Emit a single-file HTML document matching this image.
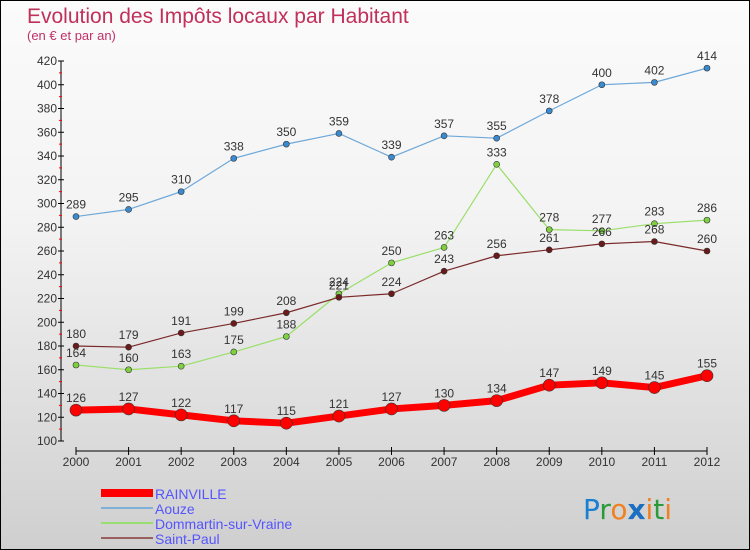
<!DOCTYPE html>
<html><head><meta charset="utf-8"><style>
body{margin:0;width:750px;height:550px;overflow:hidden;font-family:"Liberation Sans",sans-serif}
#wrap{position:relative;width:748px;height:548px;border:1px solid #000;background:linear-gradient(#fbfbfb,#f3f3f3 40%,#cfcfcf)}
</style></head><body>
<div id="wrap">
<svg id="chart" width="748" height="548" style="position:absolute;left:0;top:0">
<text x="26" y="22" font-size="21" fill="#c0305a">Evolution des Impôts locaux par Habitant</text>
<text x="26" y="39" font-size="13" fill="#c0306a">(en € et par an)</text>
<g id="axes"></g><g id="series"></g>
<g>
<rect x="100" y="488" width="52" height="8" fill="#f00"/>
<text x="154" y="498" font-size="14" fill="#55f">RAINVILLE</text>
<rect x="100" y="506" width="52" height="2" fill="#7fb0d8"/>
<text x="154" y="513" font-size="14" fill="#55f">Aouze</text>
<rect x="100" y="521" width="52" height="2" fill="#98dd70"/>
<text x="154" y="528" font-size="14" fill="#55f">Dommartin-sur-Vraine</text>
<rect x="100" y="536" width="52" height="2" fill="#9a6060"/>
<text x="154" y="543" font-size="14" fill="#55f">Saint-Paul</text>
</g>
<g font-size="28" font-family="DejaVu Sans,sans-serif">
<text x="582" y="518"><tspan fill="#1a7fd0">P</tspan><tspan fill="#2a9a3a">r</tspan><tspan fill="#f08020">o</tspan><tspan fill="#1a6fc0" font-weight="bold">x</tspan><tspan fill="#f08020">i</tspan><tspan fill="#2a9a3a">t</tspan><tspan fill="#f08020">i</tspan></text>
</g>
</svg></div>
<script>
const years=[2000,2001,2002,2003,2004,2005,2006,2007,2008,2009,2010,2011,2012];
const yTicks=[100,120,140,160,180,200,220,240,260,280,300,320,340,360,380,400,420];
const rainville=[126,127,122,117,115,121,127,130,134,147,149,145,155];
const aouze=[289,295,310,338,350,359,339,357,355,378,400,402,414];
const dommartin=[164,160,163,175,188,224,250,263,333,278,277,283,286];
const saintPaul=[180,179,191,199,208,221,224,243,256,261,266,268,260];
const NS="http://www.w3.org/2000/svg";
const xs=i=>75+i*(631/12);
const ys=v=>440-(v-100)*(380/320);
function mk(t,a,p){const e=document.createElementNS(NS,t);for(const k in a)e.setAttribute(k,a[k]);p.appendChild(e);return e;}
const ax=document.getElementById('axes');
const yl=mk('line',{x1:60,y1:60,x2:60,y2:440,stroke:'#000'},ax);


const xl=mk('line',{x1:75,y1:450,x2:706,y2:450,stroke:'#000'},ax);


yTicks.forEach(v=>{
 mk('line',{x1:57,x2:63,y1:ys(v),y2:ys(v),stroke:'#000'},ax);
 if(v<420)mk('line',{x1:58,x2:61,y1:ys(v+10),y2:ys(v+10),stroke:'#f00'},ax);
 const t=mk('text',{x:56,y:ys(v)+4,'text-anchor':'end','font-size':12,fill:'#333'},ax);
 t.textContent=v;
 
 
});
years.forEach((y,i)=>{
 mk('line',{x1:xs(i),x2:xs(i),y1:446,y2:454,stroke:'#000'},ax);
 const t=mk('text',{x:xs(i),y:465,'text-anchor':'middle','font-size':12,fill:'#333'},ax);
 t.textContent=y;
 
 
});
const sg=document.getElementById('series');
function series(name,data,color,w,r,dot,lab){
 const g=mk('g',{},sg);
 
 
 const pl=mk('polyline',{points:data.map((v,i)=>xs(i)+','+ys(v)).join(' '),fill:'none',stroke:color,'stroke-width':w,'stroke-linejoin':'round'},g);
 
 
 data.forEach((v,i)=>{
  const c=mk('circle',{cx:xs(i),cy:ys(v),r:r,fill:dot,stroke:'#333','stroke-width':0.6},g);
  
  
  const t=mk('text',{x:xs(i),y:ys(v)-8,'text-anchor':'middle','font-size':12,fill:'#333'},g);
  t.textContent=v;
  
  
 });
}
series('aouze',aouze,'#6fa8d8',1.2,3,'#3a8ad0');
series('dommartin',dommartin,'#9adf6a',1.2,3,'#7ed040');
series('saint-paul',saintPaul,'#7a2a2a',1.2,3,'#6a1a1a');
series('rainville',rainville,'#f00',7,6,'#f00');
</script>
</body></html>
